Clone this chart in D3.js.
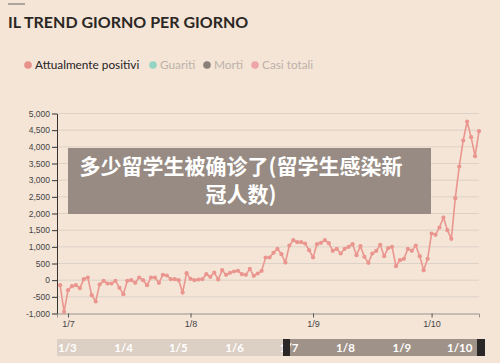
<!DOCTYPE html>
<html><head><meta charset="utf-8">
<script src="https://cdn.jsdelivr.net/npm/d3@7"></script>
<style>body{margin:0;background:#f4e5d7;}svg{display:block}</style>
</head><body><svg id="c" width="500" height="363"></svg>
<script>
const title = "IL TREND GIORNO PER GIORNO";
const legendNames = ["Attualmente positivi", "Guariti", "Morti", "Casi totali"];
const legendColors = ["#e8908a", "#93d5c2", "#8a7f79", "#efa6aa"];
const legendActive = [true, false, false, false];
const dates = [
 "06-29","06-30",
 "07-01","07-02","07-03","07-04","07-05","07-06","07-07","07-08","07-09","07-10",
 "07-11","07-12","07-13","07-14","07-15","07-16","07-17","07-18","07-19","07-20",
 "07-21","07-22","07-23","07-24","07-25","07-26","07-27","07-28","07-29","07-30","07-31",
 "08-01","08-02","08-03","08-04","08-05","08-06","08-07","08-08","08-09","08-10",
 "08-11","08-12","08-13","08-14","08-15","08-16","08-17","08-18","08-19","08-20",
 "08-21","08-22","08-23","08-24","08-25","08-26","08-27","08-28","08-29","08-30","08-31",
 "09-01","09-02","09-03","09-04","09-05","09-06","09-07","09-08","09-09","09-10",
 "09-11","09-12","09-13","09-14","09-15","09-16","09-17","09-18","09-19","09-20",
 "09-21","09-22","09-23","09-24","09-25","09-26","09-27","09-28","09-29","09-30",
 "10-01","10-02","10-03","10-04","10-05","10-06","10-07","10-08","10-09","10-10",
 "10-11","10-12","10-13"];
const values = [
 -150,-950,
 -300,-180,-150,-240,30,80,-450,-640,-130,-20,
 -100,-100,-20,-230,-420,-20,0,-80,80,0,
 -150,80,80,-80,160,140,30,30,0,-370,210,
 40,0,20,30,180,100,230,20,300,160,
 220,260,280,180,160,340,130,200,280,680,
 680,820,940,780,530,1040,1200,1140,1140,1100,900,
 680,1080,1120,1200,1110,880,940,800,940,1000,
 1080,750,1020,700,520,800,880,1060,720,960,
 1000,420,600,640,940,880,1040,720,300,640,
 1400,1360,1580,1880,1500,1240,2460,3410,4190,4760,
 4290,3720,4470];
const yTicks = [-1000,-500,0,500,1000,1500,2000,2500,3000,3500,4000,4500,5000];
const sliderMonths = ["03-01","04-01","05-01","06-01","07-01","08-01","09-01","10-01"];
const overlayLines = ["多少留学生被确诊了(留学生感染新", "冠人数)"];

const parse = s => { const [m, d] = s.split("-").map(Number); return new Date(2020, m - 1, d); };
const data = dates.map((d, i) => ({ date: parse(d), value: values[i] }));

const svg = d3.select("#c");
svg.append("rect").attr("width", 500).attr("height", 363).attr("fill", "#f4e5d7");

// top rule + title
svg.append("line").attr("x1", 8).attr("x2", 25).attr("y1", 4).attr("y2", 4)
  .attr("stroke", "#6b6561").attr("stroke-width", 1);
svg.append("text").attr("x", 8).attr("y", 27.5).text(title)
  .attr("font-family", "Lato, sans-serif").attr("font-weight", 700)
  .attr("font-size", 16).attr("fill", "#2b2724");

// legend
const legX = [28, 153, 207, 255];
legendNames.forEach((n, i) => {
  svg.append("circle").attr("cx", legX[i]).attr("cy", 65).attr("r", 3.8).attr("fill", legendColors[i]);
  svg.append("text").attr("x", legX[i] + 7).attr("y", 69).text(n)
    .attr("font-family", "Lato, sans-serif").attr("font-size", 11.8)
    .attr("fill", legendActive[i] ? "#26221f" : "#bdb2a9");
});

// scales
const x = d3.scaleTime().domain([new Date(2020, 5, 28, 5), new Date(2020, 9, 13)]).range([57, 479]);
const y = d3.scaleLinear().domain([-1000, 5000]).range([313.5, 113.5]);

// grid
svg.append("g").selectAll("line").data(yTicks.filter(t => t > -1000)).join("line")
  .attr("x1", 57).attr("x2", 479).attr("y1", d => y(d)).attr("y2", d => y(d))
  .attr("stroke", "#dcd2c7").attr("stroke-width", 1);

// y axis
const fmt = d => d3.format(",")(d).replace("−", "-");
const ya = svg.append("g").attr("transform", "translate(57,0)")
  .call(d3.axisLeft(y).tickValues(yTicks).tickFormat(fmt).tickSize(5).tickSizeOuter(0).tickPadding(2));
ya.select(".domain").attr("stroke", "#333");
ya.selectAll(".tick line").attr("stroke", "#333");
ya.selectAll("text").attr("font-family", "Liberation Sans, Arial, sans-serif").attr("font-size", 8.5).attr("fill", "#444");

// x axis
const xa = svg.append("g").attr("transform", "translate(0,313.5)")
  .call(d3.axisBottom(x).ticks(d3.timeMonth.every(1)).tickFormat(d3.timeFormat("%-d/%-m")).tickSize(4).tickSizeOuter(4).tickPadding(3));
xa.select(".domain").attr("stroke", "#9a938d");
xa.selectAll(".tick line").attr("stroke", "#555");
xa.selectAll("text").attr("font-family", "Liberation Sans, Arial, sans-serif").attr("font-size", 9).attr("fill", "#444");

// line
const lineColor = "#ea968f";
svg.append("path").datum(data)
  .attr("d", d3.line().x(d => x(d.date)).y(d => y(d.value)))
  .attr("fill", "none").attr("stroke", lineColor).attr("stroke-width", 1.6);
svg.append("g").selectAll("circle").data(data).join("circle")
  .attr("cx", d => x(d.date)).attr("cy", d => y(d.value)).attr("r", 2.1).attr("fill", lineColor);

// slider
const sx = d3.scaleTime().domain([new Date(2020, 2, 1), new Date(2020, 9, 23)]).range([56, 485]);
const selX0 = 283, selX1 = 485;
svg.append("rect").attr("x", 57).attr("y", 339).attr("width", 485 - 57).attr("height", 17).attr("fill", "#dccfc4");
svg.append("rect").attr("x", selX0).attr("y", 339).attr("width", selX1 - selX0).attr("height", 17).attr("fill", "#9f9289");
svg.append("g").selectAll("text").data(sliderMonths.map(parse)).join("text")
  .attr("x", d => sx(d) + 2).attr("y", 351.5).text(d3.timeFormat("%-d/%-m"))
  .attr("font-family", "Lato, sans-serif").attr("font-weight", 700).attr("font-size", 11.5)
  .attr("fill", "#fff");
svg.append("rect").attr("x", selX0).attr("y", 339).attr("width", 7).attr("height", 17).attr("fill", "#2a2726");
svg.append("rect").attr("x", selX1 - 8).attr("y", 339).attr("width", 8).attr("height", 17).attr("fill", "#2a2726");

// overlay
svg.append("rect").attr("x", 68).attr("y", 148).attr("width", 363).attr("height", 66).attr("fill", "#978b83");
overlayLines.forEach((t, i) => {
  svg.append("text").attr("x", 241).attr("y", 173.5 + i * 28).attr("text-anchor", "middle").text(t)
    .attr("font-family", "Noto Sans CJK SC, sans-serif").attr("font-weight", 700)
    .attr("font-size", 21).attr("fill", "#fff");
});
</script></body></html>
